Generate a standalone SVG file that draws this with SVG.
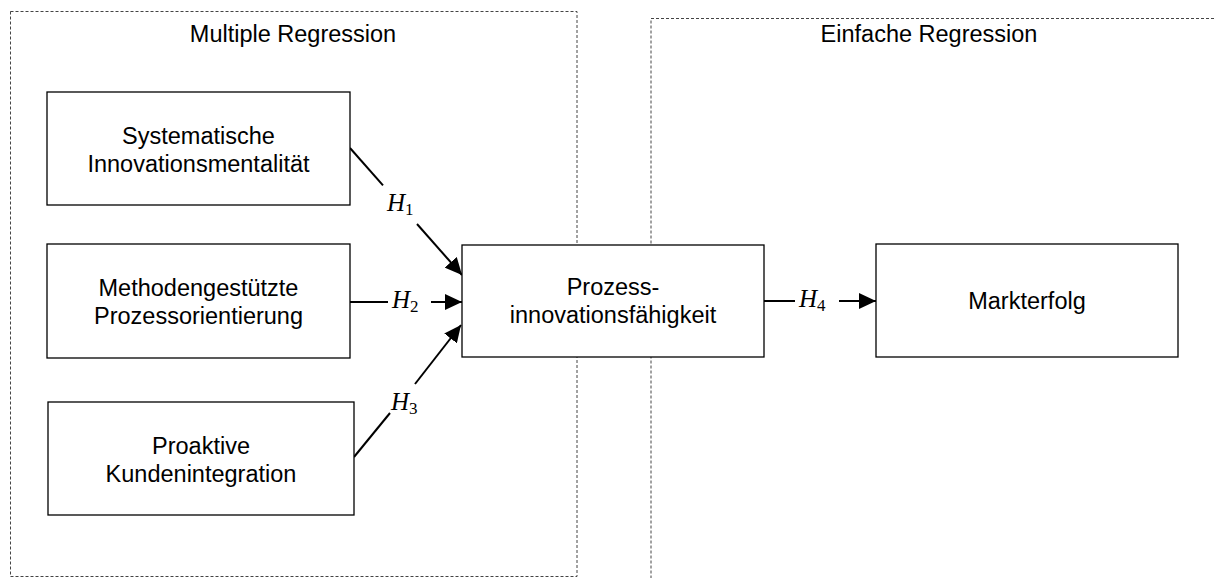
<svg xmlns="http://www.w3.org/2000/svg" width="1214" height="578" viewBox="0 0 1214 578">
<style>
.frame{fill:none;stroke:#444;stroke-width:1;stroke-dasharray:3 2}
.box{fill:#fff;stroke:#000;stroke-width:1.3}
.t{font-family:"Liberation Sans",Arial,sans-serif;font-size:23.5px;fill:#000;text-anchor:middle}
.ln{stroke:#000;stroke-width:2;fill:none}
.h{font-family:"Liberation Serif","Times New Roman",serif;font-size:25px;font-style:italic;fill:#000}
.sub{font-style:normal;font-size:17px}
</style>
<defs>
<marker id="ah" markerUnits="userSpaceOnUse" markerWidth="17" markerHeight="16" refX="17" refY="8" orient="auto">
<path d="M0,0 L17,8 L0,16 Z" fill="#000"/>
</marker>
</defs>
<g id="frame-multiple">
<rect class="frame" x="10.5" y="11.5" width="566.5" height="565"/>
<text class="t" x="293" y="41.5">Multiple Regression</text>
</g>
<g id="frame-einfache">
<rect class="frame" x="651" y="18.5" width="620" height="620"/>
<text class="t" x="929" y="41.5">Einfache Regression</text>
</g>
<g id="connectors">
<line class="ln" x1="350" y1="148" x2="383" y2="185.4"/>
<line class="ln" x1="417" y1="224" x2="462" y2="275" marker-end="url(#ah)"/>
<text class="h" x="387" y="211">H<tspan class="sub" dy="4">1</tspan></text>
<line class="ln" x1="350" y1="302" x2="388" y2="302"/>
<line class="ln" x1="431" y1="302" x2="462" y2="302" marker-end="url(#ah)"/>
<text class="h" x="392" y="308">H<tspan class="sub" dy="4">2</tspan></text>
<line class="ln" x1="354" y1="457" x2="390" y2="413"/>
<line class="ln" x1="415" y1="384" x2="461" y2="325" marker-end="url(#ah)"/>
<text class="h" x="391" y="410">H<tspan class="sub" dy="4">3</tspan></text>
<line class="ln" x1="764" y1="301" x2="795" y2="301"/>
<line class="ln" x1="839" y1="301" x2="876" y2="301" marker-end="url(#ah)"/>
<text class="h" x="799" y="307">H<tspan class="sub" dy="4">4</tspan></text>
</g>
<g id="node-systematische">
<rect class="box" x="47" y="92" width="303" height="113"/>
<text class="t" x="198.5" y="144">Systematische</text>
<text class="t" x="198.5" y="172">Innovationsmentalität</text>
</g>
<g id="node-methoden">
<rect class="box" x="47" y="244" width="303" height="114"/>
<text class="t" x="198.5" y="296">Methodengestützte</text>
<text class="t" x="198.5" y="324">Prozessorientierung</text>
</g>
<g id="node-proaktive">
<rect class="box" x="48" y="402" width="306" height="113"/>
<text class="t" x="201" y="453.5">Proaktive</text>
<text class="t" x="201" y="481.5">Kundenintegration</text>
</g>
<g id="node-prozess">
<rect class="box" x="462" y="245" width="302" height="112"/>
<text class="t" x="613" y="295">Prozess-</text>
<text class="t" x="613" y="323">innovationsfähigkeit</text>
</g>
<g id="node-markterfolg">
<rect class="box" x="876" y="244" width="302" height="113"/>
<text class="t" x="1027" y="309">Markterfolg</text>
</g>
</svg>
